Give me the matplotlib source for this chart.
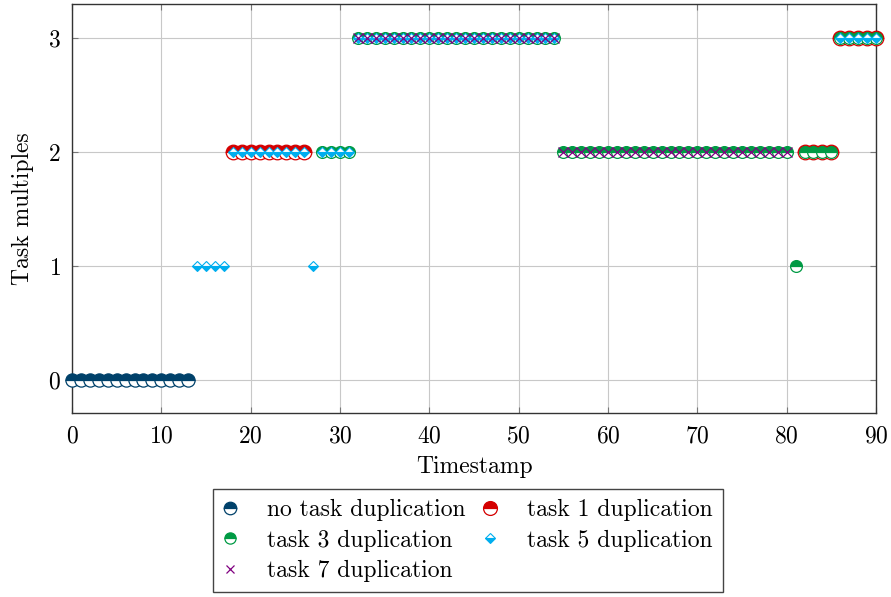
import numpy as np
import matplotlib
matplotlib.use("Agg")
import matplotlib.pyplot as plt

# data (timestamp -> task multiples)
no_dup_t = [0, 1, 2, 3, 4, 5, 6, 7, 8, 9, 10, 11, 12, 13]
no_dup_y = [0, 0, 0, 0, 0, 0, 0, 0, 0, 0, 0, 0, 0, 0]

task1_t = [18, 19, 20, 21, 22, 23, 24, 25, 26,
           82, 83, 84, 85,
           86, 87, 88, 89, 90]
task1_y = [2, 2, 2, 2, 2, 2, 2, 2, 2,
           2, 2, 2, 2,
           3, 3, 3, 3, 3]

task3_t = [28, 29, 30, 31,
           32, 33, 34, 35, 36, 37, 38, 39, 40, 41, 42, 43, 44, 45, 46, 47, 48, 49, 50, 51, 52, 53, 54,
           55, 56, 57, 58, 59, 60, 61, 62, 63, 64, 65, 66, 67, 68, 69, 70, 71, 72, 73, 74, 75, 76, 77, 78, 79, 80,
           81,
           82, 83, 84, 85,
           86, 87, 88, 89, 90]
task3_y = [2, 2, 2, 2,
           3, 3, 3, 3, 3, 3, 3, 3, 3, 3, 3, 3, 3, 3, 3, 3, 3, 3, 3, 3, 3, 3, 3,
           2, 2, 2, 2, 2, 2, 2, 2, 2, 2, 2, 2, 2, 2, 2, 2, 2, 2, 2, 2, 2, 2, 2, 2, 2, 2,
           1,
           2, 2, 2, 2,
           3, 3, 3, 3, 3]

task5_t = [14, 15, 16, 17,
           18, 19, 20, 21, 22, 23, 24, 25, 26,
           27,
           28, 29, 30, 31,
           32, 33, 34, 35, 36, 37, 38, 39, 40, 41, 42, 43, 44, 45, 46, 47, 48, 49, 50, 51, 52, 53, 54,
           86, 87, 88, 89, 90]
task5_y = [1, 1, 1, 1,
           2, 2, 2, 2, 2, 2, 2, 2, 2,
           1,
           2, 2, 2, 2,
           3, 3, 3, 3, 3, 3, 3, 3, 3, 3, 3, 3, 3, 3, 3, 3, 3, 3, 3, 3, 3, 3, 3,
           3, 3, 3, 3, 3]

task7_t = [32, 33, 34, 35, 36, 37, 38, 39, 40, 41, 42, 43, 44, 45, 46, 47, 48, 49, 50, 51, 52, 53, 54,
           55, 56, 57, 58, 59, 60, 61, 62, 63, 64, 65, 66, 67, 68, 69, 70, 71, 72, 73, 74, 75, 76, 77, 78, 79, 80]
task7_y = [3, 3, 3, 3, 3, 3, 3, 3, 3, 3, 3, 3, 3, 3, 3, 3, 3, 3, 3, 3, 3, 3, 3,
           2, 2, 2, 2, 2, 2, 2, 2, 2, 2, 2, 2, 2, 2, 2, 2, 2, 2, 2, 2, 2, 2, 2, 2, 2, 2]

plt.rcParams['font.family'] = ['cmr10', 'DejaVu Serif']
plt.rcParams['mathtext.fontset'] = 'cm'
plt.rcParams['axes.formatter.use_mathtext'] = True
plt.rcParams['font.size'] = 17

fig = plt.figure(figsize=(8.91, 5.97), dpi=100)
ax = fig.add_axes([0.0808, 0.3082, 0.9024, 0.6851])

dark_blue = '#00416A'
red = '#D40000'
green = '#009A44'
cyan = '#00AEEF'
purple = '#800080'

h_no = ax.plot(no_dup_t, no_dup_y, ls='none', marker='o', ms=9.5, fillstyle='top',
               mfc=dark_blue, mfcalt='white', mec=dark_blue, mew=0.9, clip_on=False,
               label='no task duplication', zorder=3)[0]
h_1 = ax.plot(task1_t, task1_y, ls='none', marker='o', ms=10.5, fillstyle='top',
              mfc=red, mfcalt='white', mec=red, mew=0.9, clip_on=False,
              label='task 1 duplication', zorder=3)[0]
h_3 = ax.plot(task3_t, task3_y, ls='none', marker='o', ms=8.5, fillstyle='top',
              mfc=green, mfcalt='white', mec=green, mew=0.9, clip_on=False,
              label='task 3 duplication', zorder=3)[0]
h_5 = ax.plot(task5_t, task5_y, ls='none', marker='D', ms=5.2, fillstyle='bottom',
              mfc=cyan, mfcalt='white', mec=cyan, mew=0.8, clip_on=False,
              label='task 5 duplication', zorder=3)[0]
h_7 = ax.plot(task7_t, task7_y, ls='none', marker='x', ms=6.5, color=purple, mew=0.9,
              clip_on=False, label='task 7 duplication', zorder=3)[0]

ax.set_xlim(0, 90)
ax.set_ylim(-0.29, 3.3)
ax.set_xticks([0, 10, 20, 30, 40, 50, 60, 70, 80, 90])
ax.set_yticks([0, 1, 2, 3])
ax.grid(True, color='#c8c8c8', lw=0.8)
ax.set_axisbelow(True)
ax.tick_params(direction='in', top=True, right=True, length=4, color='#777777')
ax.tick_params(axis='x', pad=9)
ax.tick_params(axis='y', pad=8)
for s in ax.spines.values():
    s.set_color('#333333')
    s.set_linewidth(1.0)

ax.set_xlabel('Timestamp', labelpad=6)
ax.set_ylabel('Task multiples', labelpad=10)

handles = [h_no, h_3, h_7, h_1, h_5]
leg = fig.legend(handles=handles, ncol=2, loc='upper center', bbox_to_anchor=(0.525, 0.181),
                 fancybox=False, framealpha=1, edgecolor='#444444', handlelength=0.6,
                 handletextpad=1.3, columnspacing=0.7, labelspacing=0.36, borderpad=0.42,
                 borderaxespad=0, markerscale=0.95)
leg.get_frame().set_linewidth(1.0)

fig.savefig('out.png', dpi=100)
